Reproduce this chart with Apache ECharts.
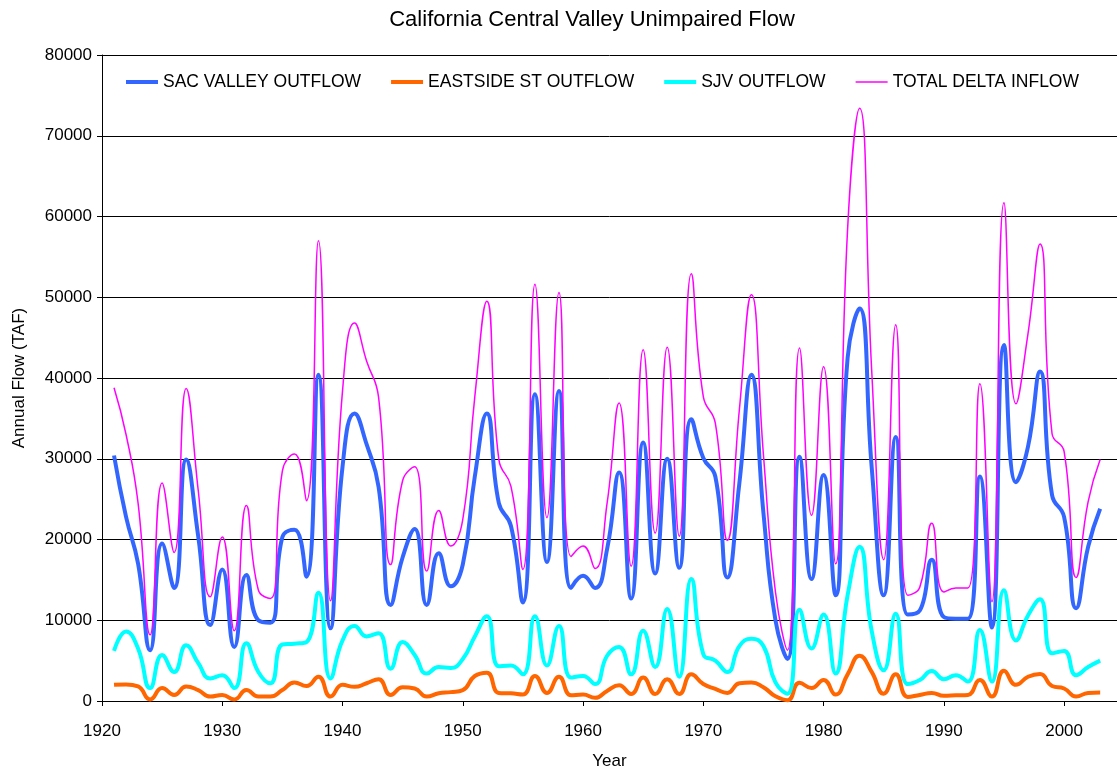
<!DOCTYPE html>
<html>
<head>
<meta charset="utf-8">
<script src="https://cdn.jsdelivr.net/npm/echarts@6/dist/echarts.min.js"></script>
<style>
  html, body { margin: 0; padding: 0; background: #fff; }
  #chart { width: 1117px; height: 770px; }
</style>
</head>
<body>
<div id="chart"></div>
<script>
// water years
var years = [1921, 1922, 1923, 1924, 1925, 1926, 1927, 1928, 1929, 1930,
  1931, 1932, 1933, 1934, 1935, 1936, 1937, 1938, 1939, 1940,
  1941, 1942, 1943, 1944, 1945, 1946, 1947, 1948, 1949, 1950,
  1951, 1952, 1953, 1954, 1955, 1956, 1957, 1958, 1959, 1960,
  1961, 1962, 1963, 1964, 1965, 1966, 1967, 1968, 1969, 1970,
  1971, 1972, 1973, 1974, 1975, 1976, 1977, 1978, 1979, 1980,
  1981, 1982, 1983, 1984, 1985, 1986, 1987, 1988, 1989, 1990,
  1991, 1992, 1993, 1994, 1995, 1996, 1997, 1998, 1999, 2000,
  2001, 2002, 2003]

// annual flow, TAF
var sacValley = [30400, 22800, 17000, 6300, 19500, 14000, 29900, 20400, 9400, 16300,
  6700, 15600, 10000, 9700, 20300, 21200, 15400, 40400, 9000, 29000,
  35600, 31800, 26500, 11900, 17800, 21300, 11900, 18300, 14200, 16900,
  27800, 35600, 24500, 21700, 12200, 38000, 17200, 38400, 14000, 15500,
  14000, 18800, 28300, 12700, 32000, 15800, 30000, 16500, 34900, 30100,
  27800, 15300, 27000, 40400, 23300, 10000, 5200, 30250, 15100, 28000,
  13100, 42500, 48600, 29000, 13100, 32700, 10700, 11200, 17500, 10400,
  10200, 10200, 27800, 9100, 44100, 27100, 31500, 40800, 25500, 22800,
  11500, 19100, 23800]

var eastside = [2000, 2050, 1800, 200, 1600, 750, 1800, 1350, 550, 750,
  200, 1350, 550, 550, 1350, 2300, 1850, 3000, 550, 2000,
  1750, 2200, 2700, 750, 1700, 1550, 550, 950, 1100, 1350,
  3100, 3500, 1000, 950, 800, 3100, 1000, 3000, 700, 800,
  400, 1250, 1950, 870, 2900, 870, 2700, 870, 3300, 2100,
  1500, 1000, 2200, 2300, 1700, 580, 100, 2250, 1600, 2600,
  800, 3300, 5600, 3600, 900, 3300, 500, 750, 1000, 650,
  700, 750, 2600, 550, 3750, 2000, 3000, 3350, 1850, 1550,
  550, 1000, 1050]

var sjv = [6200, 8600, 6500, 1600, 5700, 3600, 6900, 4700, 2800, 3200,
  1600, 7150, 3600, 2200, 7000, 7100, 7300, 13400, 2800, 7500,
  9300, 8000, 8400, 4000, 7300, 5700, 3400, 4200, 4100, 5200,
  8000, 10500, 4300, 4400, 3300, 10500, 4400, 9300, 2900, 3100,
  2100, 5600, 6700, 3300, 8700, 4200, 11400, 3000, 15100, 5800,
  5000, 3600, 6800, 7700, 6800, 2300, 900, 11300, 6500, 10700,
  3400, 13100, 19100, 8700, 3800, 10800, 2100, 2600, 3700, 2700,
  3200, 2400, 8800, 2400, 13700, 7500, 10600, 12600, 5900, 6200,
  3200, 4200, 5000]

var totalDelta = [38800, 33000, 24500, 8200, 27000, 18400, 38700, 26100, 12900, 20300,
  8700, 24200, 13750, 12700, 28500, 30600, 24800, 57000, 12400, 38400,
  46800, 42100, 37600, 16900, 27300, 29000, 16100, 23600, 19200, 22500,
  37700, 49500, 29900, 26600, 16300, 51600, 22700, 50600, 17900, 19200,
  16400, 24500, 36900, 16700, 43500, 20800, 43800, 20400, 52900, 37700,
  34400, 19900, 36100, 50300, 30500, 13500, 6300, 43700, 23000, 41400,
  17000, 58500, 73400, 41000, 17500, 46600, 13100, 14100, 22000, 13500,
  14000, 14000, 39300, 12300, 61700, 36800, 45500, 56600, 33100, 30900,
  15300, 24700, 29900]

var seriesNames = ['SAC VALLEY OUTFLOW', 'EASTSIDE ST OUTFLOW', 'SJV OUTFLOW', 'TOTAL DELTA INFLOW']
var seriesData = [sacValley, eastside, sjv, totalDelta]
var seriesColors = ['#3366FF', '#FF6600', '#00FFFF', '#FF00FF']
var seriesWidths = [4, 4, 4, 1.5]
// legend swatches are plain line segments, no marker
var legendIcons = [
  'path://M0,0 L32,0 L32,4 L0,4 Z',
  'path://M0,0 L32,0 L32,4 L0,4 Z',
  'path://M0,0 L32,0 L32,4 L0,4 Z',
  'path://M0,0 L32,0 L32,1.6 L0,1.6 Z'
]

function pairs(values) {
  return values.map(function (v, i) { return [years[i], v] })
}

var font = 'Liberation Sans, Arial, sans-serif'
var myChart = echarts.init(document.getElementById('chart'), null, { renderer: 'canvas' })

var series = seriesNames.map(function (name, i) {
  return {
    name: name,
    type: 'line',
    data: pairs(seriesData[i]),
    smooth: 0.5,
    symbol: 'none',
    lineStyle: { color: seriesColors[i], width: seriesWidths[i] },
    itemStyle: { color: seriesColors[i] },
    emphasis: { disabled: true },
    z: 2 + i
  }
})

var option = {
  animation: false,
  backgroundColor: '#fff',
  textStyle: { fontFamily: font },
  title: {
    text: 'California Central Valley Unimpaired Flow',
    left: 587,
    top: 4,
    textAlign: 'center',
    textStyle: { fontFamily: font, fontSize: 22, fontWeight: 'normal', color: '#000' }
  },
  legend: {
    left: 126,
    top: 73,
    padding: 0,
    itemWidth: 32,
    itemHeight: 14,
    itemGap: 30,
    textStyle: { fontFamily: font, fontSize: 17.5, color: '#000' },
    data: seriesNames.map(function (name, i) {
      return { name: name, icon: legendIcons[i], itemStyle: { color: seriesColors[i] } }
    })
  },
  grid: {
    left: 102,
    right: 0,
    top: 55,
    bottom: 69,
    outerBoundsMode: 'none'
  },
  xAxis: {
    type: 'value',
    min: 1920,
    max: 2004.4,
    interval: 10,
    name: 'Year',
    nameLocation: 'middle',
    nameGap: 52,
    nameTextStyle: { fontFamily: font, fontSize: 17, color: '#000' },
    axisLine: { lineStyle: { color: '#000', width: 1 } },
    axisTick: { show: true, length: 5, lineStyle: { color: '#000' } },
    axisLabel: {
      showMaxLabel: false,
      margin: 22,
      fontFamily: font,
      fontSize: 17,
      color: '#000',
      formatter: function (v) { return v % 10 === 0 ? String(v) : '' }
    },
    splitLine: { show: false }
  },
  yAxis: {
    type: 'value',
    min: 0,
    max: 80000,
    interval: 10000,
    name: 'Annual Flow (TAF)',
    nameLocation: 'middle',
    nameGap: 74,
    nameTextStyle: { fontFamily: font, fontSize: 17, color: '#000' },
    axisLine: { show: true, lineStyle: { color: '#000', width: 1 } },
    axisTick: { show: true, length: 5, lineStyle: { color: '#000' } },
    axisLabel: {
      margin: 10,
      fontFamily: font,
      fontSize: 17,
      color: '#000',
      formatter: function (v) { return String(v) }
    },
    splitLine: { show: true, lineStyle: { color: '#000', width: 1 } }
  },
  series: series
}
myChart.setOption(option)
</script>
</body>
</html>
